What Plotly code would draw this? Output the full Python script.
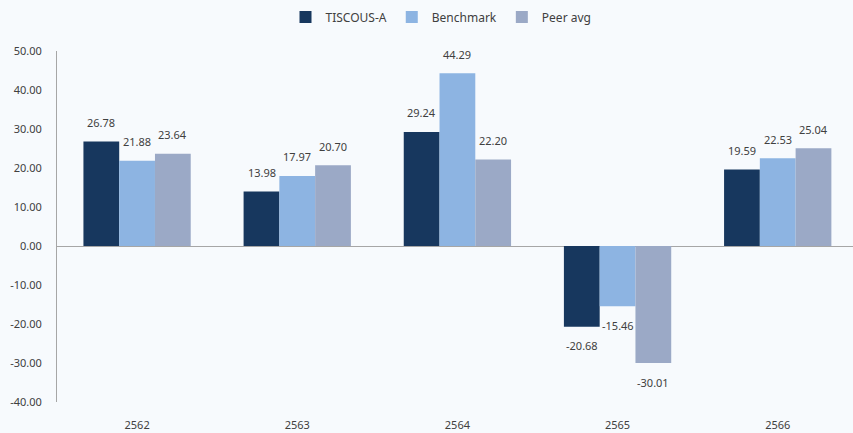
import plotly.graph_objects as go

categories = ["2562", "2563", "2564", "2565", "2566"]
fund = [26.78, 13.98, 29.24, -20.68, 19.59]
benchmark = [21.88, 17.97, 44.29, -15.46, 22.53]
peer = [23.64, 20.70, 22.20, -30.01, 25.04]
series_names = ["TISCOUS-A", "Benchmark", "Peer avg"]
colors = ["#17375e", "#8db4e2", "#9ba9c6"]
y_ticks = [50, 40, 30, 20, 10, 0, -10, -20, -30, -40]

font = "Noto Sans"
fig = go.Figure()
bar_px = 35.7
for i, (name, vals, col) in enumerate(zip(series_names, [fund, benchmark, peer], colors)):
    fig.add_trace(go.Bar(
        name=name, x=categories, y=vals, marker=dict(color=col, line=dict(width=0)),
    ))
    for j, v in enumerate(vals):
        fig.add_annotation(
            x=j, y=v, xref="x", yref="y", text=f"{v:.2f}", showarrow=False,
            xshift=(i - 1) * bar_px, yshift=19 if v >= 0 else -19,
            font=dict(family=font, size=11, color="#404040"),
        )

fig.update_layout(
    width=853, height=433,
    paper_bgcolor="#f7fafd", plot_bgcolor="#f7fafd",
    margin=dict(l=57, r=0, t=51, b=31, autoexpand=False),
    barmode="group", bargap=0.33, bargroupgap=0,
    font=dict(family=font, size=11, color="#404040"),
    showlegend=True,
    legend=dict(orientation="h", x=441 / 853, xref="container", xanchor="center",
                y=1 - 17 / 433, yref="container", yanchor="middle", font=dict(size=12),
                itemwidth=30, traceorder="normal"),
    xaxis=dict(type="category", range=[-0.5, 4.47], showline=False, showgrid=False, ticks="",
               ticklabelstandoff=15, tickfont=dict(size=11), automargin=False),
    yaxis=dict(range=[-40, 50], tickvals=y_ticks, ticktext=[f"{v:.2f}" for v in y_ticks],
               showgrid=False, showline=True, linecolor="#a6a6a6", linewidth=1,
               zeroline=True, zerolinecolor="#a6a6a6", zerolinewidth=1,
               ticks="", ticklabelstandoff=12, tickfont=dict(size=11), automargin=False),
)
fig.write_html("out.html", config={"displayModeBar": False},
               post_script="document.body.style.margin='0';")
